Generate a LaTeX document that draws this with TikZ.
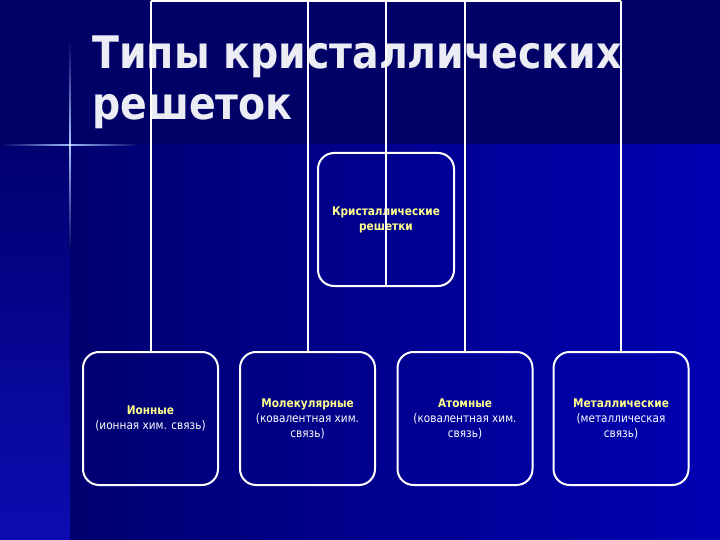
\documentclass[tikz,border=0pt]{standalone}
\usepackage{fontspec}
\setmainfont{DejaVu Sans}[FakeStretch=0.88]
\usetikzlibrary{positioning}

\definecolor{navytop}{RGB}{0,0,102}
\definecolor{navyleft}{RGB}{0,0,112}
\definecolor{navyright}{RGB}{0,0,178}
\definecolor{striplow}{RGB}{12,12,178}
\definecolor{flare}{RGB}{90,140,255}
\definecolor{labelyellow}{RGB}{255,255,140}
\definecolor{titlegrey}{RGB}{236,236,244}

\tikzset{
  typebox/.style={draw=white, line width=2bp, rounded corners=16bp,
    minimum width=135bp, minimum height=133bp, align=center, text=white,
    font=\fontsize{12}{15}\selectfont},
  link/.style={draw=white, line width=2bp},
}
\newcommand{\boxlabel}[1]{\textcolor{labelyellow}{\textbf{#1}}}

\begin{document}
\begin{tikzpicture}[x=1bp, y=-1bp, node distance=20bp]
  \useasboundingbox (0,0) rectangle (720,540);

  % background
  \fill[navytop] (0,0) rectangle (720,145);
  \shade[top color=navyleft, bottom color=striplow] (0,145) rectangle (70,540);
  \shade[left color=navyleft, right color=navyright] (70,145) rectangle (720,540);
  \shade[left color=navytop, right color=navytop, middle color=flare!60!white]
    (0,144.2) rectangle (140,145.8);
  \shade[top color=navytop, bottom color=navytop, middle color=flare!50!white]
    (69.4,40) rectangle (70.6,250);
  \fill[white] (70,145) circle (1.2);

  % title
  \node[anchor=base west, align=left, inner sep=0, text=titlegrey,
    font=\fontsize{45}{52}\selectfont\bfseries] (title) at (92,120)
    {Типы кристаллических\\решеток};

  % boxes
  \node[typebox, minimum width=136bp] (root) at (386,219.5)
    {\boxlabel{Кристаллические}\\\boxlabel{решетки}};
  \node[typebox] (ion) at (150.5,418.5)
    {\boxlabel{Ионные}\\(ионная хим. связь)};
  \node[typebox, right=of ion] (mol)
    {\boxlabel{Молекулярные}\\(ковалентная хим.\\связь)};
  \node[typebox, right=20.5bp of mol] (atom)
    {\boxlabel{Атомные}\\(ковалентная хим.\\связь)};
  \node[typebox, right=19bp of atom] (metal)
    {\boxlabel{Металлические}\\(металлическая\\связь)};

  % connectors
  \coordinate (bar) at (0,1.5);
  \draw[link] (root.south) -- (root.south |- bar);
  \draw[link] (ion.north |- bar) -- (metal.north |- bar);
  \foreach \kind in {ion,mol,atom,metal}
    \draw[link] (\kind.north |- bar) -- (\kind.north);
\end{tikzpicture}
\end{document}
